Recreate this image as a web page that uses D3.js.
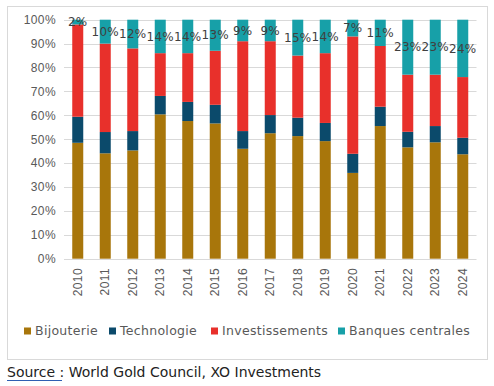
<!DOCTYPE html>
<html lang="fr">
<head>
<meta charset="UTF-8" />
<title>Demande d'or par secteur</title>
<script src="https://d3js.org/d3.v7.min.js"></script>
<style>
  body { margin: 0; background: #fff; font-family: 'DejaVu Sans', sans-serif; }
  .tick text { fill: #595959; font-size: 12px; letter-spacing: 0.4px; }
  .lbl { fill: #404040; font-size: 12px; letter-spacing: 0.3px; }
  .leg { fill: #595959; font-size: 12.5px; letter-spacing: 0.3px; }
</style>
</head>
<body>
<script>
  const years = ["2010","2011","2012","2013","2014","2015","2016","2017","2018","2019","2020","2021","2022","2023","2024"];
  const bijouterie = [48.5, 44.1, 45.3, 60.4, 57.6, 56.6, 46.0, 52.5, 51.3, 49.2, 35.9, 55.5, 46.6, 48.7, 43.7];
  const technologie = [10.9, 8.9, 8.1, 7.7, 8.0, 7.8, 7.4, 7.6, 7.7, 7.6, 8.0, 8.1, 6.5, 6.8, 6.9];
  const investissements = [38.6, 37.0, 34.6, 17.9, 20.4, 22.6, 37.6, 30.9, 26.0, 29.2, 49.1, 25.4, 23.9, 21.5, 25.4];
  const banques = [2, 10, 12, 14, 14, 13, 9, 9, 15, 14, 7, 11, 23, 23, 24];
  const yTicks = [0, 10, 20, 30, 40, 50, 60, 70, 80, 90, 100];

  const seriesNames = ["Bijouterie", "Technologie", "Investissements", "Banques centrales"];
  const colors = ["#a8760b", "#0b4a6b", "#e8302b", "#17a0a8"];

  const W = 494, H = 386;
  const svg = d3.select("body").append("svg").attr("width", W).attr("height", H);

  // chart frame
  svg.append("rect").attr("x", 7.5).attr("y", 6.5).attr("width", 480).attr("height", 353)
    .attr("fill", "#fff").attr("stroke", "#d9d9d9");

  const rows = years.map((yr, i) => ({
    year: yr,
    "Bijouterie": bijouterie[i],
    "Technologie": technologie[i],
    "Investissements": investissements[i],
    "Banques centrales": banques[i]
  }));

  const x = d3.scaleBand().domain(years).range([64, 476.5]).paddingInner(0.6).paddingOuter(0.3);
  const y = d3.scaleLinear().domain([0, 100]).range([258.7, 19.7]);

  // gridlines
  svg.append("g").selectAll("line").data(yTicks).join("line")
    .attr("x1", 64).attr("x2", 476.5)
    .attr("y1", d => Math.round(y(d)) + 0.5).attr("y2", d => Math.round(y(d)) + 0.5)
    .attr("stroke", "#d9d9d9");

  const yAxis = svg.append("g").attr("transform", "translate(56,0)")
    .call(d3.axisLeft(y).tickValues(yTicks).tickSize(0).tickPadding(0).tickFormat(d => d + "%"));
  yAxis.select(".domain").remove();

  const layers = d3.stack().keys(seriesNames)(rows);

  svg.append("g").selectAll("g").data(layers).join("g")
    .attr("fill", (d, i) => colors[i])
    .selectAll("rect").data(d => d).join("rect")
    .attr("x", d => x(d.data.year))
    .attr("width", x.bandwidth())
    .attr("y", d => y(d[1]))
    .attr("height", d => y(d[0]) - y(d[1]));

  // labels on central banks segment
  const cbLayer = layers[3];
  svg.append("g").selectAll("text").data(cbLayer).join("text")
    .attr("class", "lbl")
    .attr("x", d => x(d.data.year) + x.bandwidth() / 2)
    .attr("y", d => y((d[0] + d[1]) / 2))
    .attr("dy", "0.35em")
    .attr("text-anchor", "middle")
    .text(d => Math.round(d.data["Banques centrales"]) + "%");

  // x axis
  const xAxis = svg.append("g").attr("transform", "translate(0,265)")
    .call(d3.axisBottom(x).tickSize(0).tickPadding(0));
  xAxis.select(".domain").remove();
  xAxis.selectAll(".tick text")
    .attr("transform", "rotate(-90)")
    .attr("text-anchor", "end")
    .attr("x", -3).attr("y", 0).attr("dy", "0.35em");

  // legend
  const legX = [24, 109, 211, 338];
  const leg = svg.append("g").selectAll("g").data(seriesNames).join("g")
    .attr("transform", (d, i) => `translate(${legX[i]},331)`);
  leg.append("rect").attr("x", 0).attr("y", -3.5).attr("width", 7).attr("height", 7)
    .attr("fill", (d, i) => colors[i]);
  leg.append("text").attr("class", "leg").attr("x", 11).attr("dy", "0.35em").text(d => d);

  // source
  const src = svg.append("text").attr("x", 7).attr("y", 377)
    .attr("font-size", 14).attr("fill", "#222");
  src.append("tspan").text("Source :");
  src.append("tspan").text(" World Gold Council, XO Investments");
  svg.append("line").attr("x1", 7).attr("x2", 62).attr("y1", 380.5).attr("y2", 380.5)
    .attr("stroke", "#2f5fb3").attr("stroke-width", 1);
</script>
</body>
</html>
